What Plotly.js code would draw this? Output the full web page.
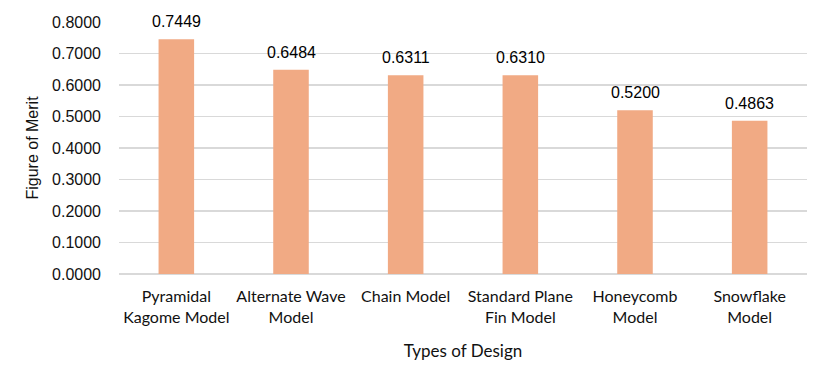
<!DOCTYPE html>
<html>
<head>
<meta charset="utf-8">
<script src="https://cdn.plot.ly/plotly-3.0.1.min.js"></script>
<style>html,body{margin:0;padding:0;background:#fff;}#chart{width:822px;height:376px;}</style>
</head>
<body>
<div id="chart"></div>
<script>
const categories = ["Pyramidal<br>Kagome Model", "Alternate Wave<br>Model", "Chain Model", "Standard Plane<br>Fin Model", "Honeycomb<br>Model", "Snowflake<br>Model"];
const meritValues = [0.7449, 0.6484, 0.6311, 0.6310, 0.5200, 0.4863];
const yTickValues = [0, 0.1, 0.2, 0.3, 0.4, 0.5, 0.6, 0.7, 0.8];

const trace = {
  type: "bar",
  x: categories,
  y: meritValues,
  marker: {color: "#F1AA84"},
  width: 0.31,
  cliponaxis: false,
  hoverinfo: "none"
};

const labelAnnotations = categories.map((c, i) => ({
  x: c, y: meritValues[i], xref: "x", yref: "y",
  text: meritValues[i].toFixed(4),
  showarrow: false, yanchor: "bottom", xanchor: "center", yshift: 7,
  font: {family: "Liberation Sans, Arial, sans-serif", size: 16, color: "#000"}
}));

const layout = {
  width: 822, height: 376,
  margin: {l: 119, r: 15, t: 22, b: 102},
  paper_bgcolor: "#fff", plot_bgcolor: "#fff",
  showlegend: false,
  annotations: labelAnnotations,
  xaxis: {
    showgrid: false, showline: false, zeroline: false,
    tickfont: {family: "Lato, Open Sans, sans-serif", size: 16, color: "#111"},
    ticks: "", ticklen: 0, ticklabelstandoff: 11,
    title: {text: "Types of Design", font: {family: "Lato, Open Sans, sans-serif", size: 17, color: "#111"}, standoff: 20},
    automargin: false
  },
  yaxis: {
    range: [0, 0.8],
    tickvals: yTickValues,
    ticktext: yTickValues.map(v => v.toFixed(4)),
    tickfont: {family: "Liberation Sans, Arial, sans-serif", size: 16, color: "#111"},
    showgrid: true, gridcolor: "#D9D9D9", gridwidth: 1.3,
    zeroline: true, zerolinecolor: "#D9D9D9", zerolinewidth: 1.3,
    showline: false, ticks: "", ticklen: 0, ticklabelstandoff: 17,
    title: {text: "Figure of Merit", font: {family: "Liberation Sans, Arial, sans-serif", size: 16, color: "#111"}, standoff: 9},
    automargin: false
  }
};

Plotly.newPlot("chart", [trace], layout, {displayModeBar: false, staticPlot: true});
</script>
</body>
</html>
